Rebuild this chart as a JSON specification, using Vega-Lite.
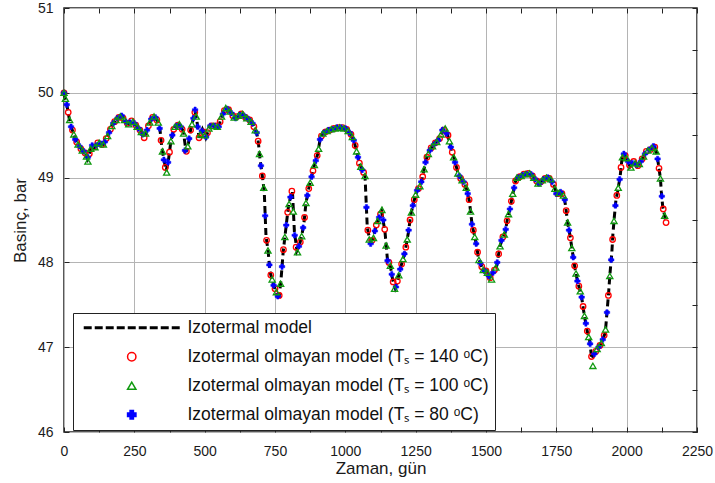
{
"$schema": "https://vega.github.io/schema/vega-lite/v6.json",
"width": 633, "height": 424,
"autosize": "none",
"padding": {"left": 64, "top": 8, "right": 18, "bottom": 51},
"data": {"values": [
{"d":0,"s":"iso","p":50.00},{"d":10,"s":"iso","p":49.86},{"d":19,"s":"iso","p":49.69},{"d":25,"s":"iso","p":49.60},{"d":33,"s":"iso","p":49.53},{"d":40,"s":"iso","p":49.45},{"d":51,"s":"iso","p":49.39},{"d":63,"s":"iso","p":49.33},{"d":75,"s":"iso","p":49.29},{"d":84,"s":"iso","p":49.22},{"d":92,"s":"iso","p":49.30},{"d":98,"s":"iso","p":49.38},{"d":108,"s":"iso","p":49.35},{"d":122,"s":"iso","p":49.41},{"d":140,"s":"iso","p":49.39},{"d":152,"s":"iso","p":49.47},{"d":163,"s":"iso","p":49.56},{"d":175,"s":"iso","p":49.64},{"d":193,"s":"iso","p":49.71},{"d":205,"s":"iso","p":49.73},{"d":217,"s":"iso","p":49.67},{"d":229,"s":"iso","p":49.63},{"d":243,"s":"iso","p":49.67},{"d":258,"s":"iso","p":49.61},{"d":274,"s":"iso","p":49.55},{"d":285,"s":"iso","p":49.47},{"d":300,"s":"iso","p":49.61},{"d":312,"s":"iso","p":49.70},{"d":323,"s":"iso","p":49.72},{"d":335,"s":"iso","p":49.65},{"d":341,"s":"iso","p":49.57},{"d":347,"s":"iso","p":49.38},{"d":353,"s":"iso","p":49.25},{"d":363,"s":"iso","p":49.08},{"d":371,"s":"iso","p":49.20},{"d":380,"s":"iso","p":49.43},{"d":392,"s":"iso","p":49.59},{"d":409,"s":"iso","p":49.63},{"d":424,"s":"iso","p":49.55},{"d":434,"s":"iso","p":49.30},{"d":442,"s":"iso","p":49.40},{"d":451,"s":"iso","p":49.58},{"d":460,"s":"iso","p":49.70},{"d":466,"s":"iso","p":49.78},{"d":472,"s":"iso","p":49.68},{"d":480,"s":"iso","p":49.47},{"d":492,"s":"iso","p":49.57},{"d":504,"s":"iso","p":49.47},{"d":519,"s":"iso","p":49.61},{"d":537,"s":"iso","p":49.61},{"d":549,"s":"iso","p":49.59},{"d":560,"s":"iso","p":49.72},{"d":575,"s":"iso","p":49.82},{"d":590,"s":"iso","p":49.78},{"d":608,"s":"iso","p":49.70},{"d":632,"s":"iso","p":49.76},{"d":649,"s":"iso","p":49.70},{"d":667,"s":"iso","p":49.66},{"d":679,"s":"iso","p":49.57},{"d":685,"s":"iso","p":49.53},{"d":691,"s":"iso","p":49.41},{"d":697,"s":"iso","p":49.21},{"d":703,"s":"iso","p":49.07},{"d":708,"s":"iso","p":48.94},{"d":712,"s":"iso","p":48.82},{"d":718,"s":"iso","p":48.31},{"d":726,"s":"iso","p":48.12},{"d":732,"s":"iso","p":47.89},{"d":738,"s":"iso","p":47.82},{"d":746,"s":"iso","p":47.72},{"d":756,"s":"iso","p":47.64},{"d":765,"s":"iso","p":47.61},{"d":771,"s":"iso","p":47.78},{"d":779,"s":"iso","p":48.12},{"d":791,"s":"iso","p":48.47},{"d":797,"s":"iso","p":48.64},{"d":803,"s":"iso","p":48.74},{"d":812,"s":"iso","p":48.84},{"d":819,"s":"iso","p":48.36},{"d":828,"s":"iso","p":48.14},{"d":837,"s":"iso","p":48.21},{"d":845,"s":"iso","p":48.31},{"d":853,"s":"iso","p":48.47},{"d":860,"s":"iso","p":48.70},{"d":869,"s":"iso","p":48.86},{"d":878,"s":"iso","p":48.98},{"d":887,"s":"iso","p":49.11},{"d":892,"s":"iso","p":49.17},{"d":902,"s":"iso","p":49.28},{"d":910,"s":"iso","p":49.45},{"d":919,"s":"iso","p":49.52},{"d":933,"s":"iso","p":49.55},{"d":951,"s":"iso","p":49.57},{"d":971,"s":"iso","p":49.59},{"d":987,"s":"iso","p":49.59},{"d":1004,"s":"iso","p":49.57},{"d":1020,"s":"iso","p":49.51},{"d":1031,"s":"iso","p":49.43},{"d":1040,"s":"iso","p":49.31},{"d":1052,"s":"iso","p":49.15},{"d":1062,"s":"iso","p":49.08},{"d":1070,"s":"iso","p":49.02},{"d":1078,"s":"iso","p":48.41},{"d":1088,"s":"iso","p":48.25},{"d":1099,"s":"iso","p":48.28},{"d":1109,"s":"iso","p":48.43},{"d":1117,"s":"iso","p":48.51},{"d":1129,"s":"iso","p":48.60},{"d":1141,"s":"iso","p":48.36},{"d":1150,"s":"iso","p":48.02},{"d":1159,"s":"iso","p":47.98},{"d":1168,"s":"iso","p":47.80},{"d":1177,"s":"iso","p":47.70},{"d":1188,"s":"iso","p":47.82},{"d":1200,"s":"iso","p":47.98},{"d":1212,"s":"iso","p":48.12},{"d":1224,"s":"iso","p":48.35},{"d":1232,"s":"iso","p":48.55},{"d":1242,"s":"iso","p":48.70},{"d":1254,"s":"iso","p":48.84},{"d":1266,"s":"iso","p":48.90},{"d":1274,"s":"iso","p":49.00},{"d":1283,"s":"iso","p":49.15},{"d":1289,"s":"iso","p":49.23},{"d":1301,"s":"iso","p":49.33},{"d":1319,"s":"iso","p":49.41},{"d":1337,"s":"iso","p":49.47},{"d":1348,"s":"iso","p":49.57},{"d":1363,"s":"iso","p":49.51},{"d":1381,"s":"iso","p":49.29},{"d":1393,"s":"iso","p":49.15},{"d":1401,"s":"iso","p":49.04},{"d":1413,"s":"iso","p":48.98},{"d":1429,"s":"iso","p":48.89},{"d":1441,"s":"iso","p":48.72},{"d":1451,"s":"iso","p":48.43},{"d":1457,"s":"iso","p":48.35},{"d":1467,"s":"iso","p":48.19},{"d":1473,"s":"iso","p":48.05},{"d":1481,"s":"iso","p":47.98},{"d":1491,"s":"iso","p":47.90},{"d":1502,"s":"iso","p":47.90},{"d":1514,"s":"iso","p":47.82},{"d":1526,"s":"iso","p":47.88},{"d":1538,"s":"iso","p":47.96},{"d":1544,"s":"iso","p":48.08},{"d":1550,"s":"iso","p":48.19},{"d":1556,"s":"iso","p":48.27},{"d":1568,"s":"iso","p":48.35},{"d":1577,"s":"iso","p":48.53},{"d":1586,"s":"iso","p":48.64},{"d":1592,"s":"iso","p":48.76},{"d":1600,"s":"iso","p":48.88},{"d":1607,"s":"iso","p":48.99},{"d":1621,"s":"iso","p":49.01},{"d":1639,"s":"iso","p":49.04},{"d":1657,"s":"iso","p":49.05},{"d":1672,"s":"iso","p":49.00},{"d":1686,"s":"iso","p":48.92},{"d":1698,"s":"iso","p":48.96},{"d":1716,"s":"iso","p":49.00},{"d":1730,"s":"iso","p":48.98},{"d":1743,"s":"iso","p":48.90},{"d":1751,"s":"iso","p":48.80},{"d":1763,"s":"iso","p":48.83},{"d":1778,"s":"iso","p":48.78},{"d":1785,"s":"iso","p":48.61},{"d":1790,"s":"iso","p":48.47},{"d":1799,"s":"iso","p":48.31},{"d":1811,"s":"iso","p":48.04},{"d":1817,"s":"iso","p":47.92},{"d":1825,"s":"iso","p":47.78},{"d":1835,"s":"iso","p":47.66},{"d":1840,"s":"iso","p":47.59},{"d":1846,"s":"iso","p":47.45},{"d":1852,"s":"iso","p":47.33},{"d":1861,"s":"iso","p":47.17},{"d":1868,"s":"iso","p":47.09},{"d":1876,"s":"iso","p":46.86},{"d":1885,"s":"iso","p":46.92},{"d":1894,"s":"iso","p":46.98},{"d":1906,"s":"iso","p":47.02},{"d":1918,"s":"iso","p":47.12},{"d":1924,"s":"iso","p":47.17},{"d":1930,"s":"iso","p":47.41},{"d":1936,"s":"iso","p":47.65},{"d":1941,"s":"iso","p":47.88},{"d":1947,"s":"iso","p":48.10},{"d":1951,"s":"iso","p":48.33},{"d":1956,"s":"iso","p":48.53},{"d":1962,"s":"iso","p":48.74},{"d":1968,"s":"iso","p":48.84},{"d":1973,"s":"iso","p":48.94},{"d":1977,"s":"iso","p":49.02},{"d":1983,"s":"iso","p":49.21},{"d":1990,"s":"iso","p":49.28},{"d":2000,"s":"iso","p":49.23},{"d":2012,"s":"iso","p":49.13},{"d":2024,"s":"iso","p":49.19},{"d":2039,"s":"iso","p":49.14},{"d":2054,"s":"iso","p":49.21},{"d":2071,"s":"iso","p":49.31},{"d":2087,"s":"iso","p":49.33},{"d":2098,"s":"iso","p":49.38},{"d":2108,"s":"iso","p":49.27},{"d":2114,"s":"iso","p":49.13},{"d":2120,"s":"iso","p":48.99},{"d":2123,"s":"iso","p":48.84},{"d":2128,"s":"iso","p":48.66},{"d":2135,"s":"iso","p":48.55},{"d":2140,"s":"iso","p":48.47},
{"d":0,"s":"c","p":50.00},{"d":15,"s":"c","p":49.77},{"d":30,"s":"c","p":49.56},{"d":45,"s":"c","p":49.42},{"d":60,"s":"c","p":49.34},{"d":75,"s":"c","p":49.29},{"d":90,"s":"c","p":49.28},{"d":105,"s":"c","p":49.36},{"d":120,"s":"c","p":49.41},{"d":135,"s":"c","p":49.39},{"d":150,"s":"c","p":49.46},{"d":165,"s":"c","p":49.57},{"d":180,"s":"c","p":49.66},{"d":195,"s":"c","p":49.71},{"d":210,"s":"c","p":49.70},{"d":225,"s":"c","p":49.64},{"d":240,"s":"c","p":49.67},{"d":255,"s":"c","p":49.62},{"d":270,"s":"c","p":49.56},{"d":285,"s":"c","p":49.47},{"d":300,"s":"c","p":49.61},{"d":315,"s":"c","p":49.71},{"d":330,"s":"c","p":49.68},{"d":345,"s":"c","p":49.44},{"d":360,"s":"c","p":49.12},{"d":375,"s":"c","p":49.30},{"d":390,"s":"c","p":49.57},{"d":405,"s":"c","p":49.62},{"d":420,"s":"c","p":49.57},{"d":435,"s":"c","p":49.31},{"d":450,"s":"c","p":49.56},{"d":465,"s":"c","p":49.77},{"d":480,"s":"c","p":49.47},{"d":495,"s":"c","p":49.54},{"d":510,"s":"c","p":49.53},{"d":525,"s":"c","p":49.61},{"d":540,"s":"c","p":49.61},{"d":555,"s":"c","p":49.66},{"d":570,"s":"c","p":49.79},{"d":585,"s":"c","p":49.80},{"d":600,"s":"c","p":49.73},{"d":615,"s":"c","p":49.72},{"d":630,"s":"c","p":49.75},{"d":645,"s":"c","p":49.71},{"d":660,"s":"c","p":49.68},{"d":675,"s":"c","p":49.60},{"d":690,"s":"c","p":49.43},{"d":705,"s":"c","p":49.02},{"d":720,"s":"c","p":48.26},{"d":735,"s":"c","p":47.85},{"d":750,"s":"c","p":47.69},{"d":765,"s":"c","p":47.61},{"d":780,"s":"c","p":48.15},{"d":795,"s":"c","p":48.59},{"d":810,"s":"c","p":48.84},{"d":825,"s":"c","p":48.18},{"d":840,"s":"c","p":48.24},{"d":855,"s":"c","p":48.53},{"d":870,"s":"c","p":48.87},{"d":885,"s":"c","p":49.08},{"d":900,"s":"c","p":49.26},{"d":915,"s":"c","p":49.49},{"d":930,"s":"c","p":49.54},{"d":945,"s":"c","p":49.56},{"d":960,"s":"c","p":49.58},{"d":975,"s":"c","p":49.59},{"d":990,"s":"c","p":49.59},{"d":1005,"s":"c","p":49.57},{"d":1020,"s":"c","p":49.51},{"d":1035,"s":"c","p":49.38},{"d":1050,"s":"c","p":49.17},{"d":1065,"s":"c","p":49.06},{"d":1080,"s":"c","p":48.38},{"d":1095,"s":"c","p":48.26},{"d":1110,"s":"c","p":48.44},{"d":1125,"s":"c","p":48.57},{"d":1140,"s":"c","p":48.39},{"d":1155,"s":"c","p":48.00},{"d":1170,"s":"c","p":47.77},{"d":1185,"s":"c","p":47.78},{"d":1200,"s":"c","p":47.98},{"d":1215,"s":"c","p":48.18},{"d":1230,"s":"c","p":48.50},{"d":1245,"s":"c","p":48.74},{"d":1260,"s":"c","p":48.87},{"d":1275,"s":"c","p":49.01},{"d":1290,"s":"c","p":49.24},{"d":1305,"s":"c","p":49.35},{"d":1320,"s":"c","p":49.41},{"d":1335,"s":"c","p":49.46},{"d":1350,"s":"c","p":49.56},{"d":1365,"s":"c","p":49.50},{"d":1380,"s":"c","p":49.30},{"d":1395,"s":"c","p":49.12},{"d":1410,"s":"c","p":48.99},{"d":1425,"s":"c","p":48.92},{"d":1440,"s":"c","p":48.74},{"d":1455,"s":"c","p":48.38},{"d":1470,"s":"c","p":48.12},{"d":1485,"s":"c","p":47.95},{"d":1500,"s":"c","p":47.90},{"d":1515,"s":"c","p":47.82},{"d":1530,"s":"c","p":47.91},{"d":1545,"s":"c","p":48.10},{"d":1560,"s":"c","p":48.30},{"d":1575,"s":"c","p":48.49},{"d":1590,"s":"c","p":48.72},{"d":1605,"s":"c","p":48.96},{"d":1620,"s":"c","p":49.01},{"d":1635,"s":"c","p":49.04},{"d":1650,"s":"c","p":49.05},{"d":1665,"s":"c","p":49.02},{"d":1680,"s":"c","p":48.96},{"d":1695,"s":"c","p":48.95},{"d":1710,"s":"c","p":48.99},{"d":1725,"s":"c","p":48.99},{"d":1740,"s":"c","p":48.92},{"d":1755,"s":"c","p":48.81},{"d":1770,"s":"c","p":48.81},{"d":1785,"s":"c","p":48.61},{"d":1800,"s":"c","p":48.29},{"d":1815,"s":"c","p":47.96},{"d":1830,"s":"c","p":47.72},{"d":1845,"s":"c","p":47.48},{"d":1860,"s":"c","p":47.19},{"d":1875,"s":"c","p":46.89},{"d":1890,"s":"c","p":46.95},{"d":1905,"s":"c","p":47.02},{"d":1920,"s":"c","p":47.14},{"d":1935,"s":"c","p":47.61},{"d":1950,"s":"c","p":48.27},{"d":1965,"s":"c","p":48.79},{"d":1980,"s":"c","p":49.12},{"d":1995,"s":"c","p":49.26},{"d":2010,"s":"c","p":49.15},{"d":2025,"s":"c","p":49.19},{"d":2040,"s":"c","p":49.14},{"d":2055,"s":"c","p":49.22},{"d":2070,"s":"c","p":49.31},{"d":2085,"s":"c","p":49.33},{"d":2100,"s":"c","p":49.36},{"d":2115,"s":"c","p":49.11},{"d":2130,"s":"c","p":48.63},{"d":2140,"s":"c","p":48.47},
{"d":0,"s":"t","p":50.00},{"d":5,"s":"t","p":49.93},{"d":20,"s":"t","p":49.68},{"d":35,"s":"t","p":49.51},{"d":50,"s":"t","p":49.39},{"d":65,"s":"t","p":49.32},{"d":80,"s":"t","p":49.25},{"d":85,"s":"t","p":49.19},{"d":95,"s":"t","p":49.34},{"d":110,"s":"t","p":49.36},{"d":125,"s":"t","p":49.41},{"d":140,"s":"t","p":49.39},{"d":155,"s":"t","p":49.49},{"d":170,"s":"t","p":49.61},{"d":185,"s":"t","p":49.68},{"d":200,"s":"t","p":49.72},{"d":215,"s":"t","p":49.68},{"d":230,"s":"t","p":49.63},{"d":245,"s":"t","p":49.66},{"d":260,"s":"t","p":49.60},{"d":275,"s":"t","p":49.54},{"d":290,"s":"t","p":49.52},{"d":305,"s":"t","p":49.65},{"d":320,"s":"t","p":49.72},{"d":335,"s":"t","p":49.65},{"d":350,"s":"t","p":49.31},{"d":365,"s":"t","p":49.06},{"d":380,"s":"t","p":49.43},{"d":395,"s":"t","p":49.60},{"d":410,"s":"t","p":49.63},{"d":425,"s":"t","p":49.52},{"d":440,"s":"t","p":49.37},{"d":455,"s":"t","p":49.63},{"d":470,"s":"t","p":49.72},{"d":485,"s":"t","p":49.51},{"d":500,"s":"t","p":49.50},{"d":515,"s":"t","p":49.58},{"d":530,"s":"t","p":49.61},{"d":545,"s":"t","p":49.60},{"d":560,"s":"t","p":49.72},{"d":575,"s":"t","p":49.82},{"d":590,"s":"t","p":49.78},{"d":605,"s":"t","p":49.71},{"d":620,"s":"t","p":49.73},{"d":635,"s":"t","p":49.75},{"d":650,"s":"t","p":49.70},{"d":665,"s":"t","p":49.66},{"d":680,"s":"t","p":49.56},{"d":695,"s":"t","p":49.28},{"d":710,"s":"t","p":48.88},{"d":725,"s":"t","p":48.14},{"d":740,"s":"t","p":47.80},{"d":755,"s":"t","p":47.65},{"d":770,"s":"t","p":47.75},{"d":785,"s":"t","p":48.30},{"d":800,"s":"t","p":48.69},{"d":815,"s":"t","p":48.60},{"d":830,"s":"t","p":48.12},{"d":845,"s":"t","p":48.31},{"d":860,"s":"t","p":48.70},{"d":875,"s":"t","p":48.94},{"d":890,"s":"t","p":49.15},{"d":905,"s":"t","p":49.34},{"d":920,"s":"t","p":49.52},{"d":935,"s":"t","p":49.55},{"d":950,"s":"t","p":49.57},{"d":965,"s":"t","p":49.58},{"d":980,"s":"t","p":49.59},{"d":995,"s":"t","p":49.58},{"d":1010,"s":"t","p":49.55},{"d":1025,"s":"t","p":49.48},{"d":1040,"s":"t","p":49.31},{"d":1055,"s":"t","p":49.13},{"d":1070,"s":"t","p":49.02},{"d":1085,"s":"t","p":48.27},{"d":1100,"s":"t","p":48.29},{"d":1115,"s":"t","p":48.49},{"d":1130,"s":"t","p":48.62},{"d":1145,"s":"t","p":48.20},{"d":1160,"s":"t","p":47.96},{"d":1175,"s":"t","p":47.69},{"d":1190,"s":"t","p":47.85},{"d":1205,"s":"t","p":48.04},{"d":1220,"s":"t","p":48.27},{"d":1235,"s":"t","p":48.59},{"d":1250,"s":"t","p":48.80},{"d":1265,"s":"t","p":48.90},{"d":1280,"s":"t","p":49.10},{"d":1295,"s":"t","p":49.28},{"d":1310,"s":"t","p":49.37},{"d":1325,"s":"t","p":49.42},{"d":1340,"s":"t","p":49.51},{"d":1355,"s":"t","p":49.58},{"d":1370,"s":"t","p":49.43},{"d":1385,"s":"t","p":49.24},{"d":1400,"s":"t","p":49.05},{"d":1415,"s":"t","p":48.97},{"d":1430,"s":"t","p":48.88},{"d":1445,"s":"t","p":48.60},{"d":1460,"s":"t","p":48.30},{"d":1475,"s":"t","p":48.03},{"d":1490,"s":"t","p":47.91},{"d":1505,"s":"t","p":47.88},{"d":1520,"s":"t","p":47.80},{"d":1535,"s":"t","p":47.94},{"d":1550,"s":"t","p":48.19},{"d":1565,"s":"t","p":48.33},{"d":1580,"s":"t","p":48.57},{"d":1595,"s":"t","p":48.81},{"d":1610,"s":"t","p":49.00},{"d":1625,"s":"t","p":49.02},{"d":1640,"s":"t","p":49.04},{"d":1655,"s":"t","p":49.05},{"d":1670,"s":"t","p":49.00},{"d":1685,"s":"t","p":48.93},{"d":1700,"s":"t","p":48.97},{"d":1715,"s":"t","p":49.00},{"d":1730,"s":"t","p":48.98},{"d":1745,"s":"t","p":48.87},{"d":1760,"s":"t","p":48.82},{"d":1775,"s":"t","p":48.79},{"d":1790,"s":"t","p":48.47},{"d":1805,"s":"t","p":48.17},{"d":1820,"s":"t","p":47.87},{"d":1835,"s":"t","p":47.66},{"d":1850,"s":"t","p":47.37},{"d":1865,"s":"t","p":47.12},{"d":1880,"s":"t","p":46.78},{"d":1895,"s":"t","p":46.98},{"d":1910,"s":"t","p":47.05},{"d":1925,"s":"t","p":47.21},{"d":1940,"s":"t","p":47.84},{"d":1955,"s":"t","p":48.49},{"d":1970,"s":"t","p":48.88},{"d":1985,"s":"t","p":49.24},{"d":2000,"s":"t","p":49.23},{"d":2015,"s":"t","p":49.12},{"d":2030,"s":"t","p":49.17},{"d":2045,"s":"t","p":49.16},{"d":2060,"s":"t","p":49.25},{"d":2075,"s":"t","p":49.32},{"d":2090,"s":"t","p":49.35},{"d":2105,"s":"t","p":49.31},{"d":2120,"s":"t","p":48.99},{"d":2135,"s":"t","p":48.55},
{"d":0,"s":"x","p":50.00},{"d":10,"s":"x","p":49.86},{"d":25,"s":"x","p":49.60},{"d":40,"s":"x","p":49.45},{"d":55,"s":"x","p":49.37},{"d":70,"s":"x","p":49.31},{"d":85,"s":"x","p":49.24},{"d":100,"s":"x","p":49.38},{"d":115,"s":"x","p":49.38},{"d":130,"s":"x","p":49.40},{"d":145,"s":"x","p":49.42},{"d":160,"s":"x","p":49.53},{"d":175,"s":"x","p":49.64},{"d":190,"s":"x","p":49.70},{"d":205,"s":"x","p":49.73},{"d":220,"s":"x","p":49.66},{"d":235,"s":"x","p":49.65},{"d":250,"s":"x","p":49.64},{"d":265,"s":"x","p":49.58},{"d":280,"s":"x","p":49.51},{"d":295,"s":"x","p":49.56},{"d":310,"s":"x","p":49.69},{"d":325,"s":"x","p":49.71},{"d":340,"s":"x","p":49.58},{"d":355,"s":"x","p":49.21},{"d":370,"s":"x","p":49.18},{"d":385,"s":"x","p":49.50},{"d":400,"s":"x","p":49.61},{"d":415,"s":"x","p":49.60},{"d":430,"s":"x","p":49.32},{"d":445,"s":"x","p":49.46},{"d":460,"s":"x","p":49.70},{"d":466,"s":"x","p":49.80},{"d":475,"s":"x","p":49.60},{"d":490,"s":"x","p":49.55},{"d":505,"s":"x","p":49.48},{"d":520,"s":"x","p":49.61},{"d":535,"s":"x","p":49.61},{"d":550,"s":"x","p":49.60},{"d":565,"s":"x","p":49.75},{"d":580,"s":"x","p":49.81},{"d":595,"s":"x","p":49.76},{"d":610,"s":"x","p":49.70},{"d":625,"s":"x","p":49.74},{"d":640,"s":"x","p":49.73},{"d":655,"s":"x","p":49.69},{"d":670,"s":"x","p":49.64},{"d":685,"s":"x","p":49.53},{"d":700,"s":"x","p":49.14},{"d":715,"s":"x","p":48.55},{"d":730,"s":"x","p":47.97},{"d":745,"s":"x","p":47.73},{"d":760,"s":"x","p":47.60},{"d":775,"s":"x","p":47.95},{"d":790,"s":"x","p":48.44},{"d":805,"s":"x","p":48.77},{"d":820,"s":"x","p":48.32},{"d":835,"s":"x","p":48.19},{"d":850,"s":"x","p":48.41},{"d":865,"s":"x","p":48.79},{"d":880,"s":"x","p":49.01},{"d":895,"s":"x","p":49.20},{"d":910,"s":"x","p":49.45},{"d":925,"s":"x","p":49.53},{"d":940,"s":"x","p":49.56},{"d":955,"s":"x","p":49.57},{"d":970,"s":"x","p":49.59},{"d":985,"s":"x","p":49.59},{"d":1000,"s":"x","p":49.58},{"d":1015,"s":"x","p":49.53},{"d":1030,"s":"x","p":49.44},{"d":1045,"s":"x","p":49.24},{"d":1060,"s":"x","p":49.09},{"d":1075,"s":"x","p":48.65},{"d":1090,"s":"x","p":48.22},{"d":1105,"s":"x","p":48.37},{"d":1120,"s":"x","p":48.53},{"d":1135,"s":"x","p":48.50},{"d":1150,"s":"x","p":48.02},{"d":1165,"s":"x","p":47.86},{"d":1180,"s":"x","p":47.71},{"d":1195,"s":"x","p":47.92},{"d":1210,"s":"x","p":48.10},{"d":1225,"s":"x","p":48.38},{"d":1240,"s":"x","p":48.67},{"d":1255,"s":"x","p":48.85},{"d":1270,"s":"x","p":48.95},{"d":1285,"s":"x","p":49.18},{"d":1300,"s":"x","p":49.32},{"d":1315,"s":"x","p":49.39},{"d":1330,"s":"x","p":49.44},{"d":1345,"s":"x","p":49.56},{"d":1360,"s":"x","p":49.52},{"d":1375,"s":"x","p":49.36},{"d":1390,"s":"x","p":49.18},{"d":1405,"s":"x","p":49.02},{"d":1420,"s":"x","p":48.95},{"d":1435,"s":"x","p":48.81},{"d":1450,"s":"x","p":48.45},{"d":1465,"s":"x","p":48.22},{"d":1480,"s":"x","p":47.99},{"d":1495,"s":"x","p":47.90},{"d":1510,"s":"x","p":47.84},{"d":1525,"s":"x","p":47.88},{"d":1540,"s":"x","p":48.00},{"d":1555,"s":"x","p":48.26},{"d":1570,"s":"x","p":48.39},{"d":1585,"s":"x","p":48.63},{"d":1600,"s":"x","p":48.88},{"d":1615,"s":"x","p":49.00},{"d":1630,"s":"x","p":49.03},{"d":1645,"s":"x","p":49.04},{"d":1660,"s":"x","p":49.04},{"d":1675,"s":"x","p":48.98},{"d":1690,"s":"x","p":48.93},{"d":1705,"s":"x","p":48.98},{"d":1720,"s":"x","p":49.00},{"d":1735,"s":"x","p":48.95},{"d":1750,"s":"x","p":48.81},{"d":1765,"s":"x","p":48.83},{"d":1780,"s":"x","p":48.74},{"d":1795,"s":"x","p":48.38},{"d":1810,"s":"x","p":48.06},{"d":1825,"s":"x","p":47.78},{"d":1840,"s":"x","p":47.59},{"d":1855,"s":"x","p":47.28},{"d":1870,"s":"x","p":47.04},{"d":1885,"s":"x","p":46.92},{"d":1900,"s":"x","p":47.00},{"d":1915,"s":"x","p":47.09},{"d":1930,"s":"x","p":47.41},{"d":1945,"s":"x","p":48.03},{"d":1960,"s":"x","p":48.67},{"d":1975,"s":"x","p":48.98},{"d":1990,"s":"x","p":49.28},{"d":2005,"s":"x","p":49.19},{"d":2020,"s":"x","p":49.17},{"d":2035,"s":"x","p":49.15},{"d":2050,"s":"x","p":49.19},{"d":2065,"s":"x","p":49.28},{"d":2080,"s":"x","p":49.33},{"d":2095,"s":"x","p":49.37},{"d":2110,"s":"x","p":49.22},{"d":2125,"s":"x","p":48.78}
]},
"layer": [
 {
  "encoding": {
    "x": {"field": "d", "type": "quantitative",
      "scale": {"domain": [0, 2250], "nice": false, "zero": false},
      "axis": {"orient": "bottom", "title": "Zaman, gün", "format": "d", "offset": -5,
        "values": [0,125,250,375,500,625,750,875,1000,1125,1250,1375,1500,1625,1750,1875,2000,2125,2250],
        "labelExpr": "datum.value % 250 === 0 ? datum.label : ''",
        "grid": true,
        "gridOpacity": {"condition": {"test": "datum.value % 250 === 0", "value": 1}, "value": 0},
        "labelPadding": 12, "titlePadding": 2}},
    "y": {"field": "p", "type": "quantitative",
      "scale": {"domain": [46, 51], "nice": false, "zero": false},
      "axis": {"orient": "left", "title": "Basinç, bar", "format": "d", "offset": -5,
        "values": [46,46.5,47,47.5,48,48.5,49,49.5,50,50.5,51],
        "labelExpr": "datum.value % 1 === 0 ? datum.label : ''",
        "grid": true,
        "gridOpacity": {"condition": {"test": "datum.value % 1 === 0", "value": 1}, "value": 0},
        "labelPadding": 11, "titlePadding": 8}},
    "stroke": {"field": "s", "type": "nominal",
      "scale": {"domain": ["iso", "c", "t", "x"], "range": ["#000000", "#ff0000", "#109a10", "#0000ff"]},
      "legend": {"title": null, "labelExpr": "datum.value == 'iso' ? 'Izotermal model' : datum.value == 'c' ? 'Izotermal olmayan model (Tₛ = 140 ᵒC)' : datum.value == 't' ? 'Izotermal olmayan model (Tₛ = 100 ᵒC)' : 'Izotermal olmayan model (Tₛ = 80 ᵒC)'"}}
  },
  "layer": [
    {"transform": [{"filter": "datum.s == 'iso'"}], "mark": {"type": "line", "strokeWidth": 3, "strokeDash": [7, 4]}},
    {"transform": [{"filter": "datum.s == 'c'"}], "mark": {"type": "point", "filled": true, "size": 30, "strokeWidth": 1.3, "opacity": 1},
     "encoding": {
       "shape": {"field": "s", "type": "nominal", "scale": {"domain": ["iso", "c", "t", "x"], "range": ["M-11.3,-0.18H-9.75V0.18H-11.3ZM-8.67,-0.18H-7.12V0.18H-8.67ZM-6.04,-0.18H-4.49V0.18H-6.04ZM-3.41,-0.18H-1.86V0.18H-3.41ZM-0.78,-0.18H0.77V0.18H-0.78ZM1.85,-0.18H3.4V0.18H1.85ZM4.48,-0.18H6.03V0.18H4.48ZM7.11,-0.18H8.66V0.18H7.11ZM9.74,-0.18H11.29V0.18H9.74Z", "circle", "triangle-up", "cross"]},
         "legend": {"title": null, "labelExpr": "datum.value == 'iso' ? 'Izotermal model' : datum.value == 'c' ? 'Izotermal olmayan model (Tₛ = 140 ᵒC)' : datum.value == 't' ? 'Izotermal olmayan model (Tₛ = 100 ᵒC)' : 'Izotermal olmayan model (Tₛ = 80 ᵒC)'"}},
       "fill": {"field": "s", "type": "nominal", "scale": {"domain": ["iso", "c", "t", "x"], "range": ["#000000", "transparent", "transparent", "#0000ff"]},
         "legend": {"title": null, "labelExpr": "datum.value == 'iso' ? 'Izotermal model' : datum.value == 'c' ? 'Izotermal olmayan model (Tₛ = 140 ᵒC)' : datum.value == 't' ? 'Izotermal olmayan model (Tₛ = 100 ᵒC)' : 'Izotermal olmayan model (Tₛ = 80 ᵒC)'"}}
     }},
    {"transform": [{"filter": "datum.s == 'x'"}], "mark": {"type": "point", "filled": true, "size": 30, "strokeWidth": 0.5, "opacity": 1},
     "encoding": {
       "shape": {"field": "s", "type": "nominal", "legend": {"title": null, "labelExpr": "datum.value == 'iso' ? 'Izotermal model' : datum.value == 'c' ? 'Izotermal olmayan model (Tₛ = 140 ᵒC)' : datum.value == 't' ? 'Izotermal olmayan model (Tₛ = 100 ᵒC)' : 'Izotermal olmayan model (Tₛ = 80 ᵒC)'"}},
       "fill": {"field": "s", "type": "nominal", "legend": {"title": null, "labelExpr": "datum.value == 'iso' ? 'Izotermal model' : datum.value == 'c' ? 'Izotermal olmayan model (Tₛ = 140 ᵒC)' : datum.value == 't' ? 'Izotermal olmayan model (Tₛ = 100 ᵒC)' : 'Izotermal olmayan model (Tₛ = 80 ᵒC)'"}}
     }},
    {"transform": [{"filter": "datum.s == 't'"}], "mark": {"type": "point", "filled": true, "size": 38, "strokeWidth": 1.3, "opacity": 1},
     "encoding": {
       "shape": {"field": "s", "type": "nominal", "legend": {"title": null, "labelExpr": "datum.value == 'iso' ? 'Izotermal model' : datum.value == 'c' ? 'Izotermal olmayan model (Tₛ = 140 ᵒC)' : datum.value == 't' ? 'Izotermal olmayan model (Tₛ = 100 ᵒC)' : 'Izotermal olmayan model (Tₛ = 80 ᵒC)'"}},
       "fill": {"field": "s", "type": "nominal", "legend": {"title": null, "labelExpr": "datum.value == 'iso' ? 'Izotermal model' : datum.value == 'c' ? 'Izotermal olmayan model (Tₛ = 140 ᵒC)' : datum.value == 't' ? 'Izotermal olmayan model (Tₛ = 100 ᵒC)' : 'Izotermal olmayan model (Tₛ = 80 ᵒC)'"}}
     }}
  ]
 },
 {
  "transform": [{"filter": "datum.s == 'iso'"}],
  "mark": {"type": "point", "opacity": 0},
  "encoding": {
    "x": {"field": "d", "type": "quantitative",
      "scale": {"domain": [0, 2250], "nice": false, "zero": false},
      "axis": {"orient": "top", "title": null, "labels": false, "grid": false, "offset": -5,
        "values": [0,125,250,375,500,625,750,875,1000,1125,1250,1375,1500,1625,1750,1875,2000,2125,2250]}},
    "y": {"field": "p", "type": "quantitative",
      "scale": {"domain": [46, 51], "nice": false, "zero": false},
      "axis": {"orient": "right", "title": null, "labels": false, "grid": false, "offset": -5,
        "values": [46,46.5,47,47.5,48,48.5,49,49.5,50,50.5,51]}}
  }
 }
],
"resolve": {"axis": {"x": "independent", "y": "independent"}},
"config": {
  "view": {"stroke": "#222222", "strokeWidth": 1.5},
  "font": "Liberation Sans",
  "axis": {"labelFont": "Liberation Sans", "titleFont": "Liberation Sans", "labelFontSize": 14, "titleFontSize": 17,
    "titleFontWeight": "normal", "labelColor": "#1a1a1a", "titleColor": "#1a1a1a", "domain": false,
    "tickColor": "#222222", "tickSize": 5, "tickWidth": 1, "gridColor": "#b4b4b4", "gridWidth": 1,
    "labelFlush": false, "labelOverlap": false, "labelBound": false},
  "legend": {"orient": "none", "legendX": 9, "legendY": 305, "direction": "vertical",
    "fillColor": "#ffffff", "strokeColor": "#222222", "padding": 6,
    "labelFontSize": 17.5, "labelFont": "Liberation Sans", "labelColor": "#111111", "labelLimit": 500,
    "rowPadding": 10, "symbolOffset": 44, "labelOffset": 47, "symbolSize": 70, "symbolStrokeWidth": 1.5, "symbolOpacity": 1}
}
}
